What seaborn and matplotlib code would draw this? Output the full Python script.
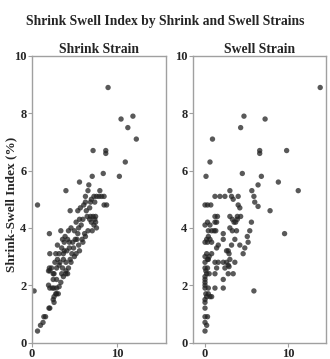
import matplotlib
matplotlib.use("Agg")
import matplotlib.pyplot as plt
import seaborn as sns
import pandas as pd

# Shrink strain panel
shrink_x = [8.97, 10.5, 11.9, 11.3, 12.3, 7.2, 8.7, 8.7, 11.0, 7.1, 8.4, 10.3, 5.6, 6.7, 4.0, 6.6, 8.0, 6.3,
            7.3, 7.6, 7.9, 8.2, 8.5, 8.5, 8.8, 6.9, 0.65, 4.5,
            5.7, 6.1, 5.4, 6.3, 7.0, 7.4,
            6.5, 6.9, 7.2, 7.4, 7.5, 7.3, 7.0, 6.8, 7.6, 7.1, 6.6, 7.5,
            5.2, 5.6, 6.0, 5.8, 4.3, 2.05, 4.6, 5.0, 5.4, 6.2,
            3.8, 3.6, 4.2, 4.8, 5.3, 5.9, 6.3, 2.1, 3.2, 3.5, 3.8, 4.1, 4.4, 4.9, 5.5, 6.0,
            3.0, 3.3, 3.7, 4.0, 4.5, 5.0, 5.2, 5.6,
            2.05, 2.1, 1.95, 2.5, 2.6, 2.9, 3.2, 3.6, 4.0, 4.3, 4.6,
            1.95, 2.1, 2.4, 2.6, 2.9, 3.2, 3.4, 3.7, 4.0, 4.2, 2.5, 2.9,
            2.5, 2.6, 2.8, 2.9, 3.1, 2.6, 2.1, 2.0, 1.6, 1.4, 1.3, 1.0, 0.65, 0.25,
            3.0, 2.8, 3.4, 3.9, 4.4, 4.7, 5.1, 5.5, 6.4, 6.8, 3.5, 2.3, 2.7, 3.7]
shrink_y = [8.9, 7.8, 7.9, 7.5, 7.1, 6.7, 6.7, 6.6, 6.3, 5.8, 5.9, 5.8, 5.6, 5.5, 5.3, 5.3, 5.3, 5.1,
            5.1, 5.1, 5.1, 5.1, 5.1, 4.8, 4.8, 4.9, 4.8, 4.6,
            4.7, 4.8, 4.6, 4.9, 5.0, 4.9,
            4.4, 4.4, 4.4, 4.3, 4.2, 4.1, 4.2, 4.3, 4.0, 3.9, 3.9, 4.4,
            4.2, 4.3, 4.3, 4.1, 3.9, 3.8, 4.0, 3.9, 3.8, 3.8,
            3.5, 3.6, 3.6, 3.5, 3.6, 3.6, 3.7, 3.1, 3.1, 3.3, 3.2, 3.2, 3.3, 3.3, 3.4, 3.5,
            2.9, 2.8, 2.9, 2.8, 2.9, 3.0, 3.1, 3.2,
            2.6, 2.5, 2.5, 2.4, 2.4, 2.6, 2.7, 2.6, 2.5, 2.6, 2.8,
            2.0, 1.9, 1.9, 1.9, 1.9, 1.95, 2.1, 2.3, 2.4, 2.4, 2.2, 2.2,
            1.5, 1.6, 1.7, 1.7, 1.7, 1.4, 1.2, 1.2, 0.9, 0.9, 0.7, 0.6, 0.4, 1.8,
            3.4, 3.1, 3.9, 3.7, 3.5, 3.1, 3.6, 4.0, 4.6, 4.7, 2.4, 2.6, 2.8, 3.1]

# Swell strain panel
swell_x = [13.9, 4.7, 7.25, 4.3, 0.9, 6.6, 6.6, 9.85, 0.6, 0.12, 4.5, 6.8, 8.85, 6.4, 3.0, 5.65, 11.25,
           1.2, 1.8, 2.4, 3.2, 4.0, 5.9,
           0.0, 0.3, 0.7, 6.0, 6.4, 7.85, 3.4, 4.0, 4.2, 3.9, 3.0, 3.3, 3.5, 3.7, 3.9, 4.3, 5.6,
           1.2, 1.5, 0.3, 0.6, 0.0, 1.2, 1.4, 0.4, 0.8, 1.1, 1.3, 2.2, 3.0, 3.3, 3.8, 5.4, 5.1, 9.6,
           0.0, 0.2, 0.4, 0.6, 0.8, 0.3, 2.2, 3.6, 5.2, 1.6, 1.4, 3.2, 4.2, 4.8, 2.6, 2.9, 2.8,
           0.0, 0.2, 0.5, 0.8, 0.4, 4.6,
           1.2, 1.6, 2.2, 2.6, 3.0, 3.6, 0.0, 0.3, 2.9, 2.8, 1.4, 2.4, 0.0, 0.1, 0.3, 0.0,
           1.2, 0.2, 0.5, 2.8, 3.4, 2.2,
           0.0, 0.0, 0.0, 0.0, 0.4, 1.2, 2.2, 5.9, 0.0, 0.2, 0.4, 0.6, 0.8, 0.1,
           0.0, 0.0, 0.0, 0.3, 0.0, 0.2, 0.0]
swell_y = [8.9, 7.9, 7.8, 7.5, 7.1, 6.7, 6.6, 6.7, 6.3, 5.8, 5.9, 5.8, 5.6, 5.5, 5.3, 5.3, 5.3,
           5.1, 5.1, 5.1, 5.1, 5.1, 5.1,
           4.8, 4.8, 4.8, 4.9, 4.75, 4.6, 5.0, 4.8, 4.7, 4.4, 4.4, 4.3, 4.2, 4.2, 4.3, 4.4, 4.2,
           4.4, 4.4, 4.2, 4.1, 4.1, 4.2, 4.2, 3.9, 3.9, 3.9, 3.9, 3.8, 4.0, 3.9, 3.9, 3.9, 3.7, 3.8,
           3.5, 3.6, 3.7, 3.6, 3.5, 3.5, 3.6, 3.6, 3.5, 3.4, 3.3, 3.4, 3.4, 3.3, 3.2, 3.1, 3.2,
           3.0, 3.1, 3.0, 3.1, 2.9, 3.1,
           2.8, 2.8, 2.8, 2.8, 2.9, 2.8, 2.8, 2.9, 2.65, 2.7, 2.6, 2.6, 2.3, 2.5, 2.6, 2.6,
           2.4, 2.4, 2.4, 2.4, 2.4, 2.2,
           1.9, 2.0, 2.1, 2.2, 1.9, 1.9, 1.9, 1.8, 1.5, 1.6, 1.7, 1.6, 1.6, 1.7,
           1.4, 1.2, 0.9, 0.9, 0.7, 0.6, 0.4]

panel_titles = ["Shrink Strain", "Swell Strain"]
suptitle = "Shrink Swell Index by Shrink and Swell Strains"
ylabel = "Shrink-Swell Index (%)"
yticks = [0, 2, 4, 6, 8, 10]
xticks = [0, 10]

sns.set_theme(style="white")
plt.rcParams["font.family"] = ["Liberation Serif", "DejaVu Serif"]
plt.rcParams["font.weight"] = "bold"

fig = plt.figure(figsize=(3.30, 3.59), dpi=100)
ax1 = fig.add_axes([32 / 330, 1 - 342.5 / 359, 134 / 330, 286.5 / 359])
ax2 = fig.add_axes([193 / 330, 1 - 342.5 / 359, 133 / 330, 286.5 / 359])

df1 = pd.DataFrame({"x": shrink_x, "y": shrink_y})
df2 = pd.DataFrame({"x": swell_x, "y": swell_y})

for ax, df, title, xlim in [(ax1, df1, panel_titles[0], (0, 15.8)),
                             (ax2, df2, panel_titles[1], (-1.45, 14.6))]:
    sns.scatterplot(data=df, x="x", y="y", ax=ax, s=15, color="#222222",
                    alpha=0.75, edgecolor="none", linewidth=0)
    ax.set_xlim(*xlim)
    ax.set_ylim(0, 10)
    ax.set_xticks(xticks)
    ax.set_yticks(yticks)
    ax.set_xlabel("")
    ax.set_ylabel("")
    ax.set_title(title, fontsize=9.8, fontweight="bold", pad=2)
    for sp in ax.spines.values():
        sp.set_color("#a0a0a0")
        sp.set_linewidth(1.0)
    ax.tick_params(axis="both", which="both", length=3, width=0.8, color="#a0a0a0",
                   labelsize=9, pad=1, left=True, bottom=True)
    for lab in ax.get_xticklabels() + ax.get_yticklabels():
        lab.set_fontweight("bold")

ax1.set_ylabel(ylabel, fontsize=9.5, fontweight="bold")
ax1.yaxis.set_label_coords(-0.112, 0.483)
fig.suptitle(suptitle, fontsize=9.8, fontweight="bold", y=1 - 22 / 359, va="center")

fig.savefig("out.png", dpi=100)
